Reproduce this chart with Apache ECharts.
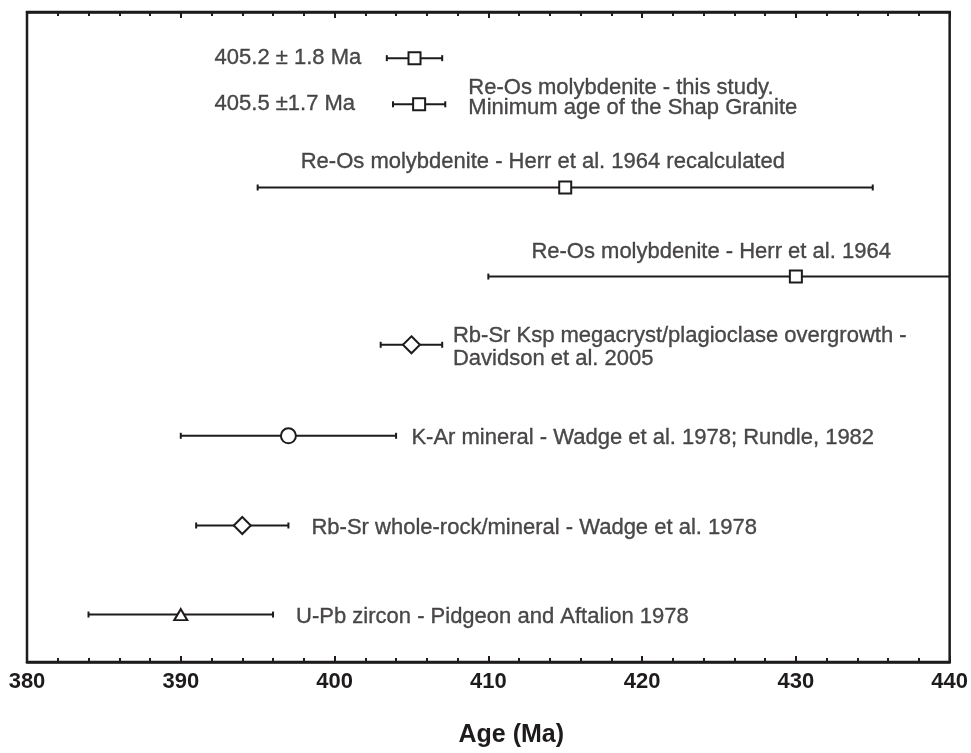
<!DOCTYPE html>
<html><head><meta charset="utf-8">
<script src="https://cdn.jsdelivr.net/npm/echarts@6/dist/echarts.min.js"></script>
<style>html,body{margin:0;padding:0;background:#fff}#c{width:971px;height:753px}</style>
</head><body><div id="c"></div>
<script>
// ---- data ----
const xMin = 380, xMax = 440, xStep = 10;
const ages   = [405.2, 405.5, 415, 430, 405, 397, 394, 390];
const errors = [1.8,   1.7,   20,  20,  2,   7,   3,   6];
const rows   = [92.9,  85.8,  73.0, 59.3, 48.8, 34.8, 21.0, 7.3];   // vertical slot of each result
const symbols = ['rect','rect','rect','rect','diamond','circle','diamond','triangle'];

const noteTexts = [
  '405.2 \u00b1 1.8 Ma',
  '405.5 \u00b11.7 Ma',
  'Re-Os molybdenite - this study.',
  'Minimum age of the Shap Granite',
  'Re-Os molybdenite - Herr et al. 1964 recalculated',
  'Re-Os molybdenite - Herr et al. 1964',
  'Rb-Sr Ksp megacryst/plagioclase overgrowth -',
  'Davidson et al. 2005',
  'K-Ar mineral - Wadge et al. 1978; Rundle, 1982',
  'Rb-Sr whole-rock/mineral - Wadge et al. 1978',
  'U-Pb zircon - Pidgeon and Aftalion 1978'
];
const noteX = [392.2, 392.2, 408.7, 408.7, 397.8, 412.8, 407.7, 407.7, 405.0, 398.5, 397.5];
const noteY = [92.9, 85.8, 88.3, 85.2, 76.9, 63.1, 50.2, 46.6, 34.5, 20.7, 6.9];

// ---- chart ----
const INK = '#1e1b1c';
const FONT = '"Liberation Sans", Arial, Helvetica, sans-serif';
const symSize = {rect:[12,12], circle:[15,15], diamond:[17,17], triangle:[13,11]};

const chart = echarts.init(document.getElementById('c'), null, {renderer:'canvas'});
chart.setOption({
  animation:false,
  backgroundColor:'#fff',
  grid:{left:27, right:14, top:12, bottom:77, show:true, borderColor:INK, borderWidth:2.5, containLabel:false},
  xAxis:[{
    type:'value', min:xMin, max:xMax, interval:xStep, position:'bottom',
    axisLine:{show:true, lineStyle:{color:INK, width:2.5}},
    axisTick:{show:true, inside:true, length:6, lineStyle:{color:INK, width:2}},
    minorTick:{show:true, splitNumber:5, length:4, lineStyle:{color:INK, width:2}},
    splitLine:{show:false},
    axisLabel:{color:INK, fontFamily:FONT, fontWeight:'bold', fontSize:22, margin:9},
    name:'Age (Ma)', nameLocation:'middle', nameGap:61,
    nameTextStyle:{color:INK, fontFamily:FONT, fontWeight:'bold', fontSize:25, padding:[0,0,0,46]}
  },{
    type:'value', min:xMin, max:xMax, interval:xStep, position:'top',
    axisLine:{show:true, lineStyle:{color:INK, width:2.5}},
    axisTick:{show:true, inside:true, length:6, lineStyle:{color:INK, width:2}},
    minorTick:{show:true, splitNumber:5, length:4, lineStyle:{color:INK, width:2}},
    splitLine:{show:false}, axisLabel:{show:false}
  }],
  yAxis:{type:'value', min:0, max:100, show:true,
    axisLine:{show:false}, axisTick:{show:false}, axisLabel:{show:false}, splitLine:{show:false}},
  series:[
    {
      type:'custom', clip:true, z:2,
      data: ages.map((a,i)=>[a-errors[i], a+errors[i], rows[i]]),
      renderItem:function(params, api){
        const p1 = api.coord([api.value(0), api.value(2)]);
        const p2 = api.coord([api.value(1), api.value(2)]);
        const h = 3;
        const st = {stroke:INK, lineWidth:2};
        return {type:'group', children:[
          {type:'line', shape:{x1:p1[0], y1:p1[1], x2:p2[0], y2:p2[1]}, style:st},
          {type:'line', shape:{x1:p1[0], y1:p1[1]-h, x2:p1[0], y2:p1[1]+h}, style:st},
          {type:'line', shape:{x1:p2[0], y1:p2[1]-h, x2:p2[0], y2:p2[1]+h}, style:st}
        ]};
      }
    },
    {
      type:'scatter', z:3,
      data: ages.map((a,i)=>({value:[a, rows[i]], symbol:symbols[i], symbolSize:symSize[symbols[i]]})),
      itemStyle:{color:'#fff', borderColor:INK, borderWidth:2, opacity:1}
    },
    {
      type:'scatter', z:4, symbolSize:0, silent:true,
      data: noteTexts.map((t,i)=>({name:t, value:[noteX[i], noteY[i]]})),
      label:{show:true, position:'right', distance:0, formatter:'{b}', color:INK,
             textBorderColor:INK, textBorderWidth:0.35, fontFamily:FONT, fontSize:22}
    }
  ]
});
</script></body></html>
